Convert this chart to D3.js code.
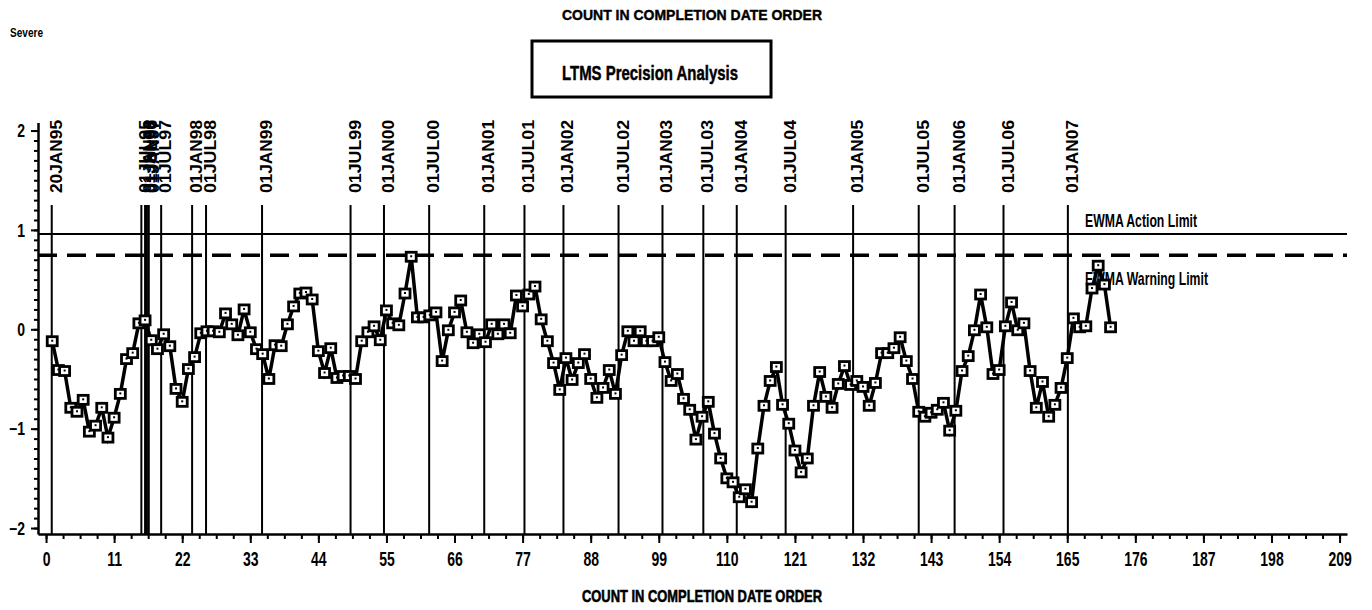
<!DOCTYPE html>
<html><head><meta charset="utf-8">
<script src="https://cdn.jsdelivr.net/npm/d3@7"></script>
<style>body{margin:0;background:#fff} svg{display:block}</style>
</head><body>
<svg id="c" width="1372" height="610"></svg>
<script>
// ---------- data ----------
const ewmaValues = [
 -0.12,-0.41,-0.42,-0.79,-0.83,-0.71,-1.03,-0.97,-0.79,-1.09,
 -0.89,-0.65,-0.30,-0.24, 0.06, 0.09,-0.11,-0.20,-0.05,-0.17,
 -0.60,-0.73,-0.40,-0.28,-0.04,-0.02,-0.02,-0.03, 0.16, 0.05,
 -0.06, 0.20,-0.03,-0.20,-0.25,-0.50,-0.16,-0.17, 0.05, 0.23,
  0.36, 0.37, 0.30,-0.22,-0.44,-0.19,-0.49,-0.47,-0.47,-0.50,
 -0.12,-0.03, 0.03,-0.11, 0.19, 0.06, 0.04, 0.36, 0.73, 0.12,
  0.12, 0.14, 0.17,-0.32,-0.01, 0.17, 0.29,-0.03,-0.14,-0.05,
 -0.13, 0.05,-0.05, 0.05,-0.04, 0.34, 0.23, 0.35, 0.43, 0.10,
 -0.12,-0.34,-0.61,-0.29,-0.51,-0.34,-0.25,-0.50,-0.69,-0.59,
 -0.41,-0.65,-0.26,-0.02,-0.12,-0.02,-0.12,-0.12,-0.08,-0.33,
 -0.52,-0.45,-0.70,-0.81,-1.11,-0.88,-0.73,-1.05,-1.30,-1.50,
 -1.54,-1.69,-1.61,-1.74,-1.20,-0.77,-0.52,-0.38,-0.76,-0.95,
 -1.22,-1.44,-1.30,-0.77,-0.43,-0.68,-0.79,-0.55,-0.37,-0.56,
 -0.52,-0.58,-0.77,-0.54,-0.24,-0.24,-0.19,-0.08,-0.32,-0.50,
 -0.83,-0.88,-0.84,-0.81,-0.74,-1.02,-0.82,-0.42,-0.27,-0.01,
  0.35, 0.02,-0.45,-0.41, 0.03, 0.27,-0.01, 0.06,-0.42,-0.79,
 -0.53,-0.88,-0.76,-0.59,-0.29, 0.11, 0.02, 0.03, 0.41, 0.64,
  0.45, 0.02
];
const refDates  = ["20JAN95","01JUL95","01JAN96","01JUL96","01JAN97","01JUL97","01JAN98","01JUL98","01JAN99",
                   "01JUL99","01JAN00","01JUL00","01JAN01","01JUL01","01JAN02","01JUL02","01JAN03","01JUL03",
                   "01JAN04","01JUL04","01JAN05","01JUL05","01JAN06","01JUL06","01JAN07"];
const refCounts = [0.92,15.4,16.0,16.3,16.6,18.6,23.6,25.85,34.9,
                   49.2,54.6,61.9,70.8,77.3,83.6,92.5,99.6,106.2,
                   111.6,119.5,130.4,141.0,146.8,154.7,165.1];
const xTickValues = [0,11,22,33,44,55,66,77,88,99,110,121,132,143,154,165,176,187,198,209];
const yTickValues = [-2,-1,0,1,2];
const limitNames  = ["EWMA Action Limit","EWMA Warning Limit"];
const limitValues = [0.96, 0.745];
const titleText   = "COUNT IN COMPLETION DATE ORDER";
const boxTitle    = "LTMS Precision Analysis";
const cornerLabel = "Severe";

// ---------- scales ----------
const svg = d3.select("#c");
const x = d3.scaleLinear().domain([-1.3, 210.2]).range([38, 1347]);
const y = d3.scaleLinear().domain([-2.06, 2.08]).range([534, 122.6]);
const FONT = "'Liberation Sans', Arial, sans-serif";

// ---------- titles ----------
svg.append("text").attr("x",10).attr("y",37.3).text(cornerLabel)
  .attr("font-family",FONT).attr("font-weight","bold").attr("font-size",12.5)
  .attr("textLength",33).attr("lengthAdjust","spacingAndGlyphs");
svg.append("text").attr("x",562).attr("y",20).text(titleText)
  .attr("font-family",FONT).attr("font-weight","bold").attr("font-size",14.5)
  .attr("stroke","#000").attr("stroke-width",0.4)
  .attr("textLength",260).attr("lengthAdjust","spacingAndGlyphs");
svg.append("rect").attr("x",532).attr("y",41).attr("width",239).attr("height",56)
  .attr("fill","none").attr("stroke","#000").attr("stroke-width",3);
svg.append("text").attr("x",562).attr("y",80).text(boxTitle)
  .attr("font-family",FONT).attr("font-weight","bold").attr("font-size",21)
  .attr("stroke","#000").attr("stroke-width",0.5)
  .attr("textLength",176).attr("lengthAdjust","spacingAndGlyphs");
svg.append("text").attr("x",582).attr("y",601.7).text(titleText)
  .attr("font-family",FONT).attr("font-weight","bold").attr("font-size",17.3)
  .attr("stroke","#000").attr("stroke-width",0.6)
  .attr("textLength",240).attr("lengthAdjust","spacingAndGlyphs");

// ---------- reference date lines ----------
const refG = svg.append("g");
refG.selectAll("line").data(refCounts).join("line")
  .attr("x1",d=>x(d)).attr("x2",d=>x(d)).attr("y1",205).attr("y2",y(-2.06))
  .attr("stroke","#000").attr("stroke-width",2);
refG.selectAll("text").data(refDates).join("text")
  .attr("transform",(d,i)=>`translate(${x(refCounts[i])+10},193) rotate(-90)`)
  .attr("font-family",FONT).attr("font-weight","bold").attr("font-size",17)
  .attr("textLength",73).attr("lengthAdjust","spacingAndGlyphs")
  .text(d=>d);

// ---------- limit lines ----------
svg.append("line").attr("x1",x(-1.3)).attr("x2",x(210.2))
  .attr("y1",y(limitValues[0])).attr("y2",y(limitValues[0]))
  .attr("stroke","#000").attr("stroke-width",2);
svg.append("line").attr("x1",x(-1.3)).attr("x2",x(210.2))
  .attr("y1",y(limitValues[1])).attr("y2",y(limitValues[1]))
  .attr("stroke","#000").attr("stroke-width",3.5).attr("stroke-dasharray","19 10");
svg.append("text").attr("x",1085).attr("y",226.7).text(limitNames[0])
  .attr("font-family",FONT).attr("font-weight","bold").attr("font-size",18.4)
  .attr("textLength",112).attr("lengthAdjust","spacingAndGlyphs");
svg.append("text").attr("x",1085).attr("y",285).text(limitNames[1])
  .attr("font-family",FONT).attr("font-weight","bold").attr("font-size",18.4)
  .attr("textLength",123).attr("lengthAdjust","spacingAndGlyphs");

// ---------- axes ----------
const xMinor = svg.append("g").attr("transform",`translate(0,${y(-2.06)})`)
  .call(d3.axisBottom(x).tickValues(d3.range(0,210,2.75)).tickSize(5).tickSizeOuter(0).tickFormat(""));
xMinor.select(".domain").remove();
const xAx = svg.append("g").attr("transform",`translate(0,${y(-2.06)})`)
  .call(d3.axisBottom(x).tickValues(xTickValues).tickSize(9).tickSizeOuter(0));
xAx.select(".domain").attr("stroke-width",2.5);
xAx.selectAll("text").attr("y",0).attr("dy",0)
  .attr("transform","translate(0,32) scale(0.7,1)")
  .attr("font-family",FONT).attr("font-weight","bold").attr("font-size",20).attr("fill","#000");

const yMinor = svg.append("g").attr("transform",`translate(${x(-1.3)},0)`)
  .call(d3.axisLeft(y).tickValues(d3.range(-20,21).map(v=>v/10)).tickSize(4).tickSizeOuter(0).tickFormat(""));
yMinor.select(".domain").remove();
const yAx = svg.append("g").attr("transform",`translate(${x(-1.3)},0)`)
  .call(d3.axisLeft(y).tickValues(yTickValues).tickSize(7).tickSizeOuter(0).tickFormat(d3.format("d")));
yAx.select(".domain").attr("stroke-width",2.5);
yAx.selectAll("text").attr("x",0).attr("dy","0.36em")
  .attr("transform","translate(-13,0) scale(0.8,1)")
  .attr("font-family",FONT).attr("font-weight","bold").attr("font-size",17.5).attr("fill","#000");
svg.selectAll(".tick line").attr("stroke-width",2);

// ---------- series ----------
const pts = ewmaValues.map((v,i)=>({c:i+1, v}));
svg.append("path").datum(pts)
  .attr("d",d3.line().x(d=>x(d.c)).y(d=>y(d.v)))
  .attr("fill","none").attr("stroke","#000").attr("stroke-width",3.5).attr("stroke-linejoin","miter");
const mk = svg.append("g").selectAll("g").data(pts).join("g")
  .attr("transform",d=>`translate(${x(d.c)},${y(d.v)})`);
mk.append("rect").attr("x",-5).attr("y",-4.5).attr("width",10).attr("height",9)
  .attr("fill","#fff").attr("stroke","#000").attr("stroke-width",2.8);
mk.append("rect").attr("x",-1).attr("y",-1.5).attr("width",2).attr("height",2).attr("fill","#000");
</script>
</body></html>
